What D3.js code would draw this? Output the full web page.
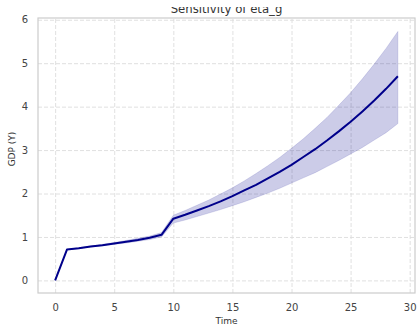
<!DOCTYPE html>
<html>
<head>
<meta charset="utf-8">
<script src="https://cdn.jsdelivr.net/npm/d3@7"></script>
<style>
  html, body { margin: 0; padding: 0; background: #fff; }
  svg { display: block; font-family: "DejaVu Sans", sans-serif; }
</style>
</head>
<body>
<svg id="chart" width="420" height="329"></svg>
<script>
// Simulated GDP path with a sensitivity band for eta_g
const time = d3.range(0, 30);
const gdpMean = [0, 0.71, 0.74, 0.78, 0.81, 0.85, 0.89, 0.93, 0.98, 1.05,
  1.42, 1.51, 1.61, 1.71, 1.82, 1.94, 2.07, 2.20, 2.35, 2.50,
  2.66, 2.84, 3.02, 3.22, 3.43, 3.65, 3.89, 4.14, 4.41, 4.70];
const gdpUpper = [0, 0.71, 0.75, 0.79, 0.83, 0.87, 0.92, 0.97, 1.02, 1.10,
  1.50, 1.61, 1.73, 1.85, 1.99, 2.13, 2.29, 2.46, 2.64, 2.83,
  3.04, 3.26, 3.50, 3.75, 4.03, 4.32, 4.64, 4.98, 5.34, 5.73];
const gdpLower = [0, 0.71, 0.73, 0.77, 0.80, 0.83, 0.86, 0.90, 0.94, 1.00,
  1.32, 1.39, 1.47, 1.55, 1.63, 1.72, 1.81, 1.91, 2.01, 2.12,
  2.24, 2.36, 2.48, 2.62, 2.76, 2.91, 3.06, 3.23, 3.40, 3.61];
const xTicks = [0, 5, 10, 15, 20, 25, 30];
const yTicks = [0, 1, 2, 3, 4, 5, 6];

const margin = { left: 38, right: 5, top: 18, bottom: 36 };
const W = 420, H = 329;
const svg = d3.select("#chart");

const x = d3.scaleLinear().domain([-1.45, 30.45]).range([margin.left, W - margin.right]);
const y = d3.scaleLinear().domain([-0.29, 6.04]).range([H - margin.bottom, margin.top]);

// grid
const gridColor = "#dddddd";
svg.append("g")
  .attr("transform", `translate(0,${H - margin.bottom})`)
  .call(d3.axisBottom(x).tickValues(xTicks).tickSize(-(H - margin.bottom - margin.top)).tickFormat(""))
  .call(g => g.select(".domain").remove())
  .call(g => g.selectAll("line").attr("stroke", gridColor).attr("stroke-width", 0.9).attr("stroke-dasharray", "4,2"));
svg.append("g")
  .attr("transform", `translate(${margin.left},0)`)
  .call(d3.axisLeft(y).tickValues(yTicks).tickSize(-(W - margin.left - margin.right)).tickFormat(""))
  .call(g => g.select(".domain").remove())
  .call(g => g.selectAll("line").attr("stroke", gridColor).attr("stroke-width", 0.9).attr("stroke-dasharray", "4,2"));

// band
const rows = time.map((t, i) => ({ t, m: gdpMean[i], lo: gdpLower[i], hi: gdpUpper[i] }));
svg.append("path")
  .datum(rows)
  .attr("fill", "#00008b")
  .attr("fill-opacity", 0.2)
  .attr("stroke", "#00008b")
  .attr("stroke-opacity", 0.12)
  .attr("d", d3.area().x(d => x(d.t)).y0(d => y(d.lo)).y1(d => y(d.hi)));

// mean line
svg.append("path")
  .datum(rows)
  .attr("fill", "none")
  .attr("stroke", "#00008b")
  .attr("stroke-width", 2)
  .attr("stroke-linejoin", "round")
  .attr("d", d3.line().x(d => x(d.t)).y(d => y(d.m)));

// frame
svg.append("rect")
  .attr("x", margin.left).attr("y", margin.top)
  .attr("width", W - margin.left - margin.right)
  .attr("height", H - margin.top - margin.bottom)
  .attr("fill", "none").attr("stroke", "#cccccc").attr("stroke-width", 1.2);

// tick labels
const xAxis = svg.append("g")
  .attr("transform", `translate(0,${H - margin.bottom})`)
  .call(d3.axisBottom(x).tickValues(xTicks).tickSize(0).tickPadding(11).tickFormat(d3.format("d")));
const yAxis = svg.append("g")
  .attr("transform", `translate(${margin.left},0)`)
  .call(d3.axisLeft(y).tickValues(yTicks).tickSize(0).tickPadding(10).tickFormat(d3.format("d")));
[xAxis, yAxis].forEach(g => {
  g.select(".domain").remove();
  g.selectAll("text").attr("fill", "#444").style("font-size", "10px").style("font-family", "DejaVu Sans, sans-serif");
});

// title, cut off along the top edge of the figure
svg.append("clipPath").attr("id", "title-clip")
  .append("rect").attr("x", 0).attr("y", 7).attr("width", W).attr("height", 12);
svg.append("text")
  .attr("clip-path", "url(#title-clip)")
  .attr("x", (margin.left + W - margin.right) / 2).attr("y", 13)
  .attr("text-anchor", "middle").attr("fill", "#333")
  .style("font-size", "11.7px")
  .text("Sensitivity of eta_g");

svg.append("text")
  .attr("x", (margin.left + W - margin.right) / 2).attr("y", 324)
  .attr("text-anchor", "middle").attr("fill", "#333")
  .style("font-size", "9px")
  .text("Time");
svg.append("text")
  .attr("transform", "translate(15,149) rotate(-90)")
  .attr("text-anchor", "middle").attr("fill", "#333")
  .style("font-size", "9px")
  .text("GDP (Y)");
</script>
</body>
</html>
